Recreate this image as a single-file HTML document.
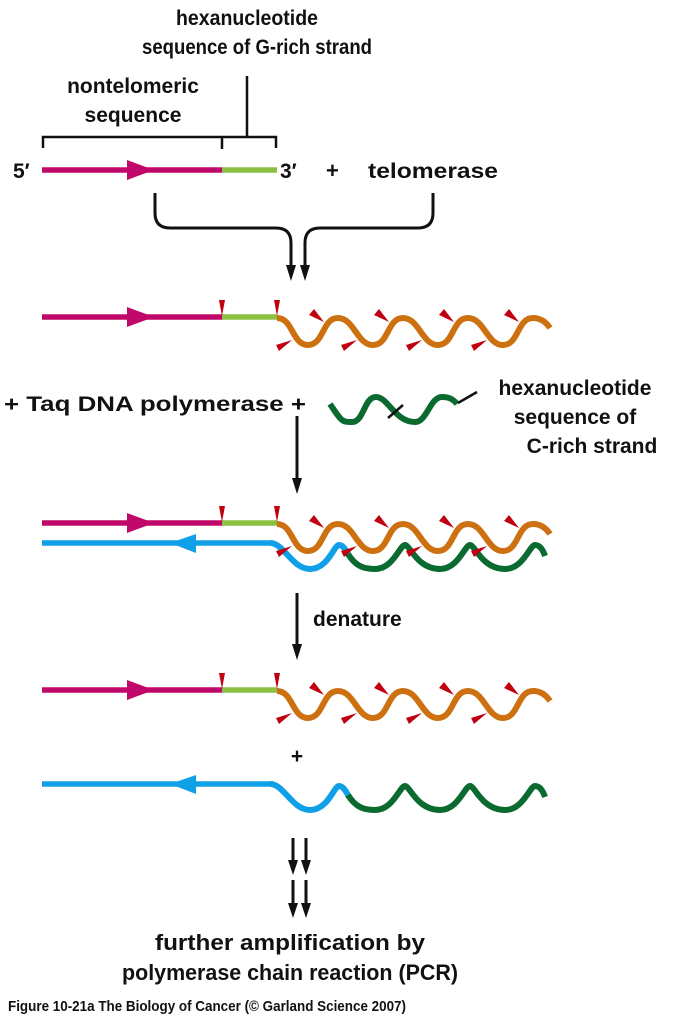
<!DOCTYPE html>
<html><head><meta charset="utf-8"><style>
html,body{margin:0;padding:0;background:#fff;}
svg{display:block;}
text{font-family:"Liberation Sans",sans-serif;font-weight:bold;fill:#111;}
</style></head><body>
<svg width="674" height="1024" viewBox="0 0 674 1024" xmlns="http://www.w3.org/2000/svg">
<defs>
<g id="orange">
  <path d="M277,318 C293,318 292,345 308,345 C324,345 322,318 338,318 C354,318 357,345 373,345 C389,345 387,318 403,318 C419,318 422,345 438,345 C454,345 452,318 468,318 C484,318 487,345 503,345 C519,345 517,318 533,318 C541,318 546,322 550,328" fill="none" stroke="#cc7010" stroke-width="6"/>
  <g fill="#c00010">
    <polygon points="219,300 225,300 222,316"/>
    <polygon points="274,300 280,300 277,316"/>
    <polygon points="309,315 314,309 324,322" id="ut"/>
    <use href="#ut" x="65"/><use href="#ut" x="130"/><use href="#ut" x="195"/>
    <polygon points="276,345 279,351 292,340" id="lt"/>
    <use href="#lt" x="65"/><use href="#lt" x="130"/><use href="#lt" x="195"/>
  </g>
</g>
<g id="topline">
  <line x1="42" y1="0" x2="223" y2="0" stroke="#c0086a" stroke-width="5.5"/>
  <line x1="222" y1="0" x2="277" y2="0" stroke="#8cc043" stroke-width="5.5"/>
  <polygon points="127,-10 154,0 127,10" fill="#c0086a"/>
</g>
<g id="blue">
  <line x1="42" y1="543" x2="273" y2="543" stroke="#0fa0e8" stroke-width="5.5"/>
  <polygon points="170,543 196,534 196,553" fill="#0fa0e8"/>
  <path d="M270,543 C284,543 292,569 310,569 C328,569 334,545 339,545 C343,545 346,550 349,556" fill="none" stroke="#0fa0e8" stroke-width="6"/>
  <path d="M348,554 C355,565 362,569 375,569 C393,569 400,545 405,545 C410,545 417,569 440,569 C458,569 465,545 470,545 C475,545 482,569 505,569 C523,569 530,545 535,545 C540,545 543,550 545,556" fill="none" stroke="#0a6a30" stroke-width="6"/>
</g>
</defs>

<text x="247" y="25" font-size="21" text-anchor="middle" textLength="142" lengthAdjust="spacingAndGlyphs">hexanucleotide</text>
<text x="257" y="54" font-size="21" text-anchor="middle" textLength="230" lengthAdjust="spacingAndGlyphs">sequence of G-rich strand</text>
<text x="133" y="93" font-size="21" text-anchor="middle">nontelomeric</text>
<text x="133" y="122" font-size="21" text-anchor="middle">sequence</text>
<path d="M43,148 V137 H276 V148 M222,137 V149 M247,137 V76" fill="none" stroke="#111" stroke-width="2.5"/>
<text x="13" y="178" font-size="21">5′</text>
<text x="280" y="178" font-size="21">3′</text>
<text x="326" y="178" font-size="22">+</text>
<text x="368" y="178" font-size="21" textLength="130" lengthAdjust="spacingAndGlyphs">telomerase</text>
<use href="#topline" y="170"/>

<path d="M155,193 V213 Q155,228 170,228 H276 Q291,228 291,243 V268" fill="none" stroke="#111" stroke-width="3"/>
<path d="M433,193 V213 Q433,228 418,228 H320 Q305,228 305,243 V268" fill="none" stroke="#111" stroke-width="3"/>
<polygon points="286,265 296,265 291,281" fill="#111"/>
<polygon points="300,265 310,265 305,281" fill="#111"/>

<use href="#topline" y="317"/>
<use href="#orange"/>

<text x="4" y="411" font-size="21" textLength="302" lengthAdjust="spacingAndGlyphs">+ Taq DNA polymerase +</text>
<path d="M330,404 C342,422 342,422 352,422 C364,422 364,397 376,397 C388,397 395,422 415,422 C427,422 430,397 442,397 C450,397 454,400 457,404" fill="none" stroke="#0a6a30" stroke-width="6"/>
<line x1="388" y1="418" x2="403" y2="405" stroke="#111" stroke-width="2.5"/>
<line x1="458" y1="403" x2="477" y2="392" stroke="#111" stroke-width="2.5"/>
<text x="575" y="395" font-size="21" text-anchor="middle">hexanucleotide</text>
<text x="575" y="424" font-size="21" text-anchor="middle">sequence of</text>
<text x="592" y="453" font-size="21" text-anchor="middle">C-rich strand</text>

<line x1="297" y1="416" x2="297" y2="480" stroke="#111" stroke-width="3"/>
<polygon points="292,478 302,478 297,494" fill="#111"/>

<use href="#topline" y="523"/>
<use href="#blue"/>
<use href="#orange" y="206"/>

<line x1="297" y1="593" x2="297" y2="646" stroke="#111" stroke-width="3"/>
<polygon points="292,644 302,644 297,660" fill="#111"/>
<text x="313" y="626" font-size="21">denature</text>

<use href="#topline" y="690"/>
<use href="#orange" y="373"/>
<text x="297" y="763" font-size="21" text-anchor="middle">+</text>
<use href="#blue" y="241"/>

<g fill="#111">
<line x1="293" y1="838" x2="293" y2="862" stroke="#111" stroke-width="3"/>
<line x1="306" y1="838" x2="306" y2="862" stroke="#111" stroke-width="3"/>
<polygon points="288,860 298,860 293,875"/><polygon points="301,860 311,860 306,875"/>
<line x1="293" y1="880" x2="293" y2="905" stroke="#111" stroke-width="3"/>
<line x1="306" y1="880" x2="306" y2="905" stroke="#111" stroke-width="3"/>
<polygon points="288,903 298,903 293,918"/><polygon points="301,903 311,903 306,918"/>
</g>

<text x="290" y="950" font-size="22" text-anchor="middle" textLength="270" lengthAdjust="spacingAndGlyphs">further amplification by</text>
<text x="290" y="980" font-size="22" text-anchor="middle" textLength="336" lengthAdjust="spacingAndGlyphs">polymerase chain reaction (PCR)</text>
<text x="8" y="1011" font-size="15" textLength="398" lengthAdjust="spacingAndGlyphs">Figure 10-21a  The Biology of Cancer (© Garland Science 2007)</text>
</svg>
</body></html>
